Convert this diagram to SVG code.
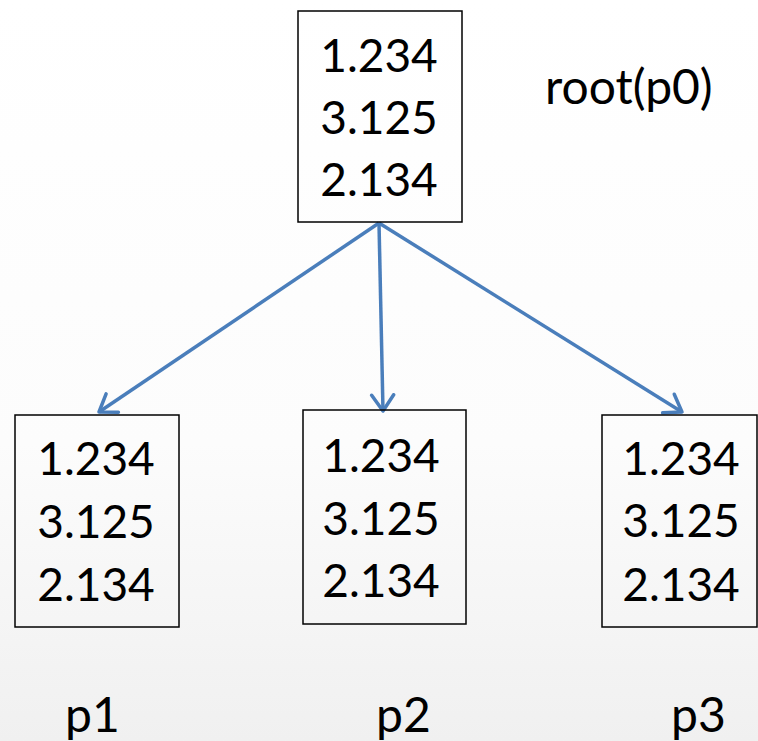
<svg xmlns="http://www.w3.org/2000/svg" width="758" height="741" viewBox="0 0 758 741">
<defs>
<linearGradient id="bg" x1="0" y1="0" x2="0" y2="1">
<stop offset="0" stop-color="#ffffff"/>
<stop offset="0.6" stop-color="#fcfcfc"/>
<stop offset="1" stop-color="#f0f0f0"/>
</linearGradient>
<marker id="arr" markerUnits="userSpaceOnUse" markerWidth="30" markerHeight="30" refX="18" refY="13" orient="auto" viewBox="0 0 30 26">
<path d="M2,2 L18,13 L2,24" fill="none" stroke="#4a7ebb" stroke-width="3.5" stroke-linecap="round" stroke-linejoin="round"/>
</marker>
<style>
.box{fill:none;stroke:#000;stroke-width:1.5}
.num{font-family:Lato,"Liberation Sans",sans-serif;font-size:46px;fill:#000;text-anchor:middle}
.lbl{font-family:Lato,"Liberation Sans",sans-serif;font-size:48px;fill:#000}
.conn{stroke:#4a7ebb;stroke-width:3.5;fill:none;marker-end:url(#arr)}
</style>
</defs>
<rect width="758" height="741" fill="url(#bg)"/>
<g id="connectors">
<line class="conn" x1="379" y1="223" x2="99" y2="412"/>
<line class="conn" x1="379" y1="223" x2="383" y2="411"/>
<line class="conn" x1="379" y1="223" x2="682" y2="412"/>
</g>
<g id="root">
<rect class="box" x="298" y="11" width="164" height="211"/>
<text class="num" x="379" y="72">1.234</text>
<text class="num" x="379" y="134">3.125</text>
<text class="num" x="379" y="196">2.134</text>
</g>
<g id="p1">
<rect class="box" x="15" y="415" width="164" height="212"/>
<text class="num" x="96" y="475">1.234</text>
<text class="num" x="96" y="538">3.125</text>
<text class="num" x="96" y="601">2.134</text>
</g>
<g id="p2">
<rect class="box" x="303" y="410" width="163" height="214"/>
<text class="num" x="381" y="472">1.234</text>
<text class="num" x="381" y="535">3.125</text>
<text class="num" x="381" y="597">2.134</text>
</g>
<g id="p3">
<rect class="box" x="602" y="415" width="155" height="212"/>
<text class="num" x="681" y="475">1.234</text>
<text class="num" x="681" y="537">3.125</text>
<text class="num" x="681" y="601">2.134</text>
</g>
<g id="labels">
<text class="lbl" x="545" y="104">root(p0)</text>
<text class="lbl" x="65" y="732">p1</text>
<text class="lbl" x="376" y="732">p2</text>
<text class="lbl" x="671" y="732">p3</text>
</g>
</svg>
